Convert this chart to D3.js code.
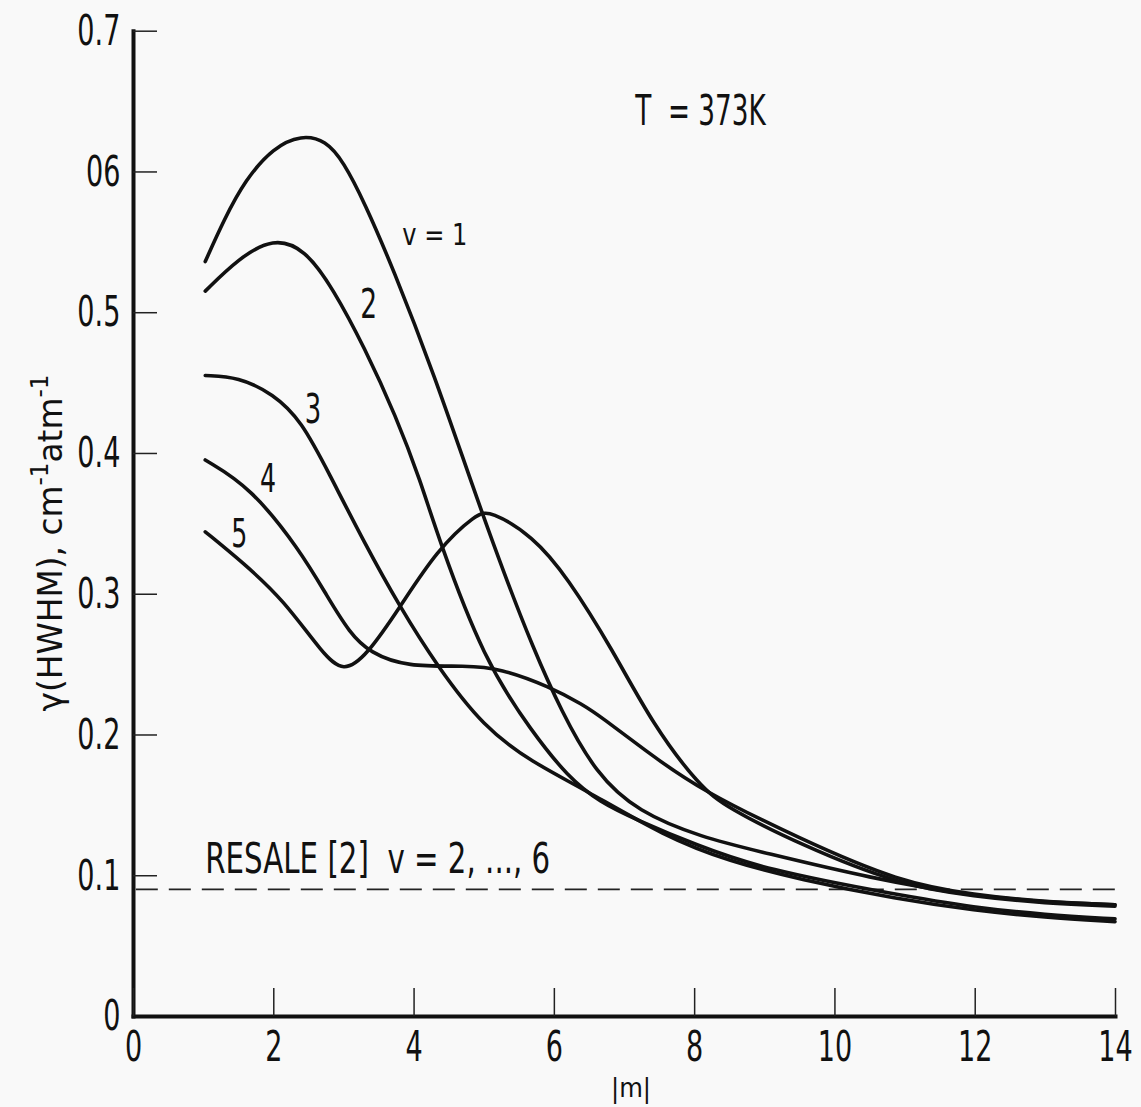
<!DOCTYPE html>
<html>
<head>
<meta charset="utf-8">
<script src="https://cdn.jsdelivr.net/npm/d3@7"></script>
<style>
  body { margin: 0; background: #f9f9f9; }
  svg text {
    font-family: "Liberation Sans Narrow", "DejaVu Sans Condensed", "Arial Narrow", sans-serif;
    fill: #111;
  }
</style>
</head>
<body>
<svg id="chart"></svg>
<script>
// Axis ticks and labels (the original prints "06" for 0.6)
const xTicks = [0, 2, 4, 6, 8, 10, 12, 14];
const yTicks = [0, 0.1, 0.2, 0.3, 0.4, 0.5, 0.6, 0.7];
const yTickLabels = ["0", "0.1", "0.2", "0.3", "0.4", "0.5", "06", "0.7"];

// Line half-width gamma vs |m|, one array per vibrational level v
const curveV1 = [[1.03,0.536],[1.3,0.566],[1.6,0.594],[2.0,0.617],[2.4,0.626],[2.75,0.622],[3.0,0.607],[3.3,0.578],[3.7,0.532],[4.3,0.455],[4.85,0.375],[5.3,0.313],[5.7,0.262],[6.1,0.217],[6.6,0.172],[7.2,0.145],[8.1,0.127],[9.0,0.116],[10.5,0.098],[12.0,0.085],[13.0,0.081],[14.0,0.079]];
const curveV2 = [[1.03,0.515],[1.5,0.538],[2.0,0.553],[2.45,0.545],[2.85,0.517],[3.3,0.475],[3.75,0.426],[4.1,0.380],[4.35,0.340],[5.0,0.253],[5.7,0.201],[6.2,0.17],[6.65,0.152],[7.2,0.139],[8.0,0.122],[9.0,0.104],[10.9,0.086],[12.0,0.077],[13.0,0.072],[14.0,0.069]];
const curveV3 = [[1.03,0.455],[1.5,0.454],[2.0,0.442],[2.4,0.423],[2.8,0.385],[3.3,0.336],[3.8,0.291],[4.33,0.249],[5.0,0.205],[5.7,0.18],[6.4,0.162],[7.6,0.127],[8.5,0.11],[9.5,0.097],[10.9,0.083],[12.0,0.075],[13.0,0.07],[14.0,0.067]];
const curveV4 = [[1.03,0.395],[1.67,0.376],[2.38,0.331],[2.77,0.298],[3.09,0.272],[3.38,0.258],[3.9,0.248],[4.76,0.249],[5.23,0.247],[5.94,0.234],[6.42,0.221],[6.66,0.213],[7.4,0.185],[8.08,0.161],[9.5,0.126],[10.93,0.095],[12.0,0.086],[13.0,0.081],[14.0,0.079]];
const curveV5 = [[1.03,0.344],[1.57,0.322],[2.14,0.296],[2.71,0.257],[3.0,0.244],[3.33,0.256],[3.8,0.29],[4.33,0.331],[4.9,0.357],[5.09,0.359],[5.7,0.341],[6.19,0.312],[6.84,0.26],[7.41,0.207],[8.08,0.163],[8.47,0.148],[9.5,0.122],[10.93,0.093],[12.0,0.085],[13.0,0.08],[14.0,0.078]];

// Resale [2] value for v = 2..6 (dashed reference line)
const resaleValue = 0.09;
const resaleRange = [0.04, 14.1];

const width = 1141, height = 1107;
const svg = d3.select("#chart").attr("width", width).attr("height", height);

const x = d3.scaleLinear().domain([0, 14]).range([133, 1115]);
const y = d3.scaleLinear().domain([0, 0.7]).range([1016, 30.7]);

// y axis, ticks point inward
const yAxis = svg.append("g")
  .attr("transform", `translate(${x(0)},0)`)
  .call(d3.axisLeft(y).tickValues(yTicks).tickFormat((d, i) => yTickLabels[i])
    .tickSize(-24).tickSizeOuter(0).tickPadding(18));

// x axis
const xAxis = svg.append("g")
  .attr("transform", `translate(0,${y(0)})`)
  .call(d3.axisBottom(x).tickValues(xTicks).tickFormat(d3.format("d"))
    .tickSize(-28).tickSizeOuter(0).tickPadding(14));

[xAxis, yAxis].forEach((g) => {
  g.select(".domain").attr("stroke", "#111").attr("stroke-width", 4).attr("stroke-linecap", "square");
  g.selectAll(".tick line").attr("stroke", "#222").attr("stroke-width", 1.5);
  g.selectAll(".tick text")
    .attr("font-size", 43)
    .attr("font-family", null)
    .attr("fill", "#111")
    .attr("transform", "scale(0.7,1)");
});

// dashed reference line
svg.append("line")
  .attr("x1", x(resaleRange[0])).attr("x2", x(resaleRange[1]))
  .attr("y1", y(resaleValue)).attr("y2", y(resaleValue))
  .attr("stroke", "#222").attr("stroke-width", 1.8)
  .attr("stroke-dasharray", "22,11");

// curves
const line = d3.line()
  .x((d) => x(d[0]))
  .y((d) => y(d[1]))
  .curve(d3.curveBasis);

svg.append("g")
  .selectAll("path")
  .data([curveV1, curveV2, curveV3, curveV4, curveV5])
  .join("path")
  .attr("d", line)
  .attr("fill", "none")
  .attr("stroke", "#111")
  .attr("stroke-width", 3.6)
  .attr("stroke-linecap", "round")
  .attr("stroke-linejoin", "round");

// squeeze a text to a given width, left edge stays put
function fit(text, w) {
  const bw = text.node().getBBox().width;
  text.attr("transform", `scale(${w / bw},1)`);
}

function label(str, m, v, size, w) {
  const g = svg.append("g").attr("transform", `translate(${x(m)},${y(v)})`);
  const t = g.append("text").attr("font-size", size).text(str);
  if (w) fit(t, w);
  else t.attr("transform", "scale(0.72,1)");
  return t;
}

// curve labels
label("v = 1", 3.84, 0.548, 30, 65);
label("2", 3.24, 0.496, 41);
label("3", 2.45, 0.421, 40);
label("4", 1.81, 0.372, 39);
label("5", 1.4, 0.333, 39);

label("T\u00a0 = 373K", 7.16, 0.633, 42, 132);
label("RESALE [2]\u00a0\u00a0v = 2, ..., 6", 1.03, 0.1016, 43, 345);

// axis titles
svg.append("g").attr("transform", `translate(${x(7.1)},1097)`)
  .append("text").attr("font-size", 27).attr("text-anchor", "middle")
  .text("|m|");

const yt = svg.append("g").attr("transform", "translate(62,543) rotate(-90)")
  .append("text").attr("font-size", 34).attr("text-anchor", "middle");
yt.append("tspan").text("\u03b3(HWHM), cm");
yt.append("tspan").attr("font-size", 24).attr("dy", -14).text("-1");
yt.append("tspan").attr("dy", 14).text("atm");
yt.append("tspan").attr("font-size", 24).attr("dy", -14).text("-1");
const yw = yt.node().getBBox().width;
yt.attr("transform", `scale(${337 / yw},1)`);
</script>
</body>
</html>
